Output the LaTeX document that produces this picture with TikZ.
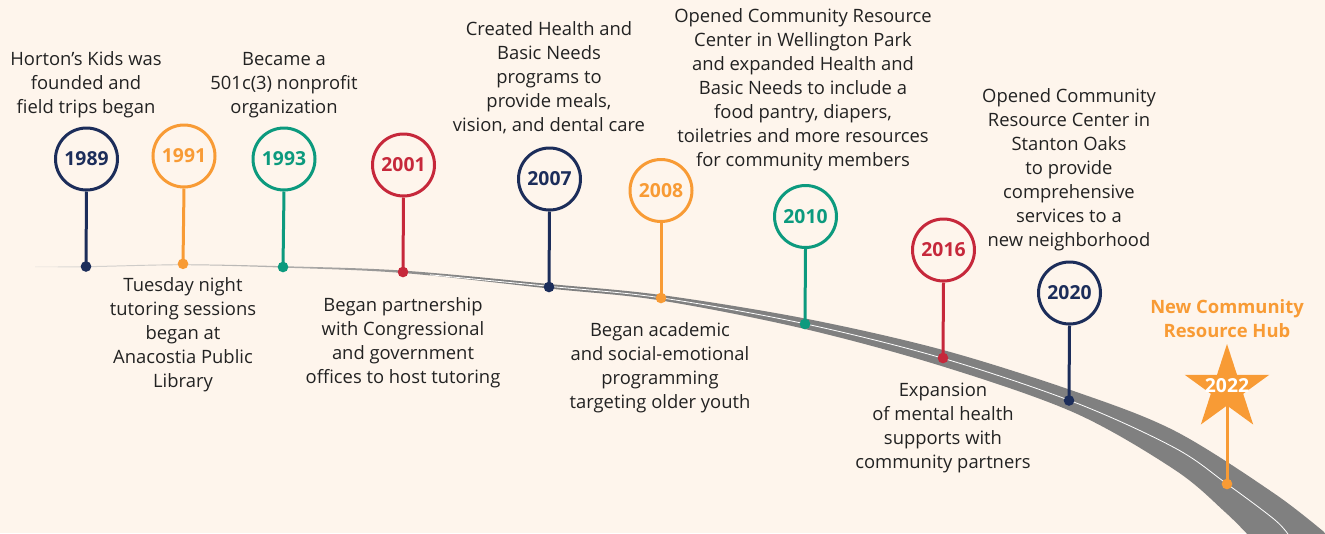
\documentclass[tikz,border=0pt]{standalone}
\usepackage{fontspec}
\setmainfont{Open Sans}
\definecolor{bg}{HTML}{FEF5EC}
\definecolor{navy}{HTML}{1C2D5A}
\definecolor{orng}{HTML}{F89B35}
\definecolor{teal}{HTML}{0C9A7E}
\definecolor{crim}{HTML}{C6283B}
\definecolor{txt}{HTML}{222222}
\definecolor{roadlight}{HTML}{E2DFDB}
\definecolor{roadmid}{HTML}{B4B2B0}
\definecolor{roadgray}{HTML}{808080}
\pgfdeclarehorizontalshading{roadshade}{100bp}{color(0bp)=(roadlight); color(25bp)=(roadlight); color(34bp)=(roadmid); color(42bp)=(roadgray); color(100bp)=(roadgray)}
\begin{document}
\begin{tikzpicture}[x=0.75pt,y=-0.75pt,
  yearc/.style={circle, draw=#1, line width=2.25pt, fill=bg, minimum size=46.5pt, inner sep=0pt,
    text=#1, font=\fontsize{14.5}{17}\selectfont\bfseries},
  roaddot/.style={circle, fill=#1, minimum size=8pt, inner sep=0pt},
  pinline/.style={draw=#1, line width=2.25pt},
  body/.style={font=\fontsize{13.8}{18}\selectfont, text=txt, align=center, inner sep=0pt}]
\useasboundingbox (0,0) rectangle (1325,533);
\fill[bg] (0,0) rectangle (1325,533);
% road
\begin{scope}
\clip (0,0) rectangle (1325,533);
\shade[shading=roadshade] plot[smooth, tension=0.55] coordinates {(35,266.6) (86,266.2) (183,264.3) (283,266.2) (403,270.6) (549,284) (661,295) (805,318.5) (943,350) (1075,391.5) (1175,431) (1275,494) (1330,537)}
  -- plot[smooth, tension=0.55] coordinates {(1250,537) (1225,512) (1175,470) (1075,413) (943,366.5) (805,329) (661,300.5) (549,288.5) (403,273) (283,267.6) (183,265.2) (86,267.2) (35,267)} -- cycle;
\draw[white, line width=0.6pt] plot[smooth, tension=0.55] coordinates {(430,274.8) (549,286.3) (661,297.8) (805,323.8) (943,358.3) (1075,402.5) (1175,448) (1227,484) (1275,520) (1290,537)};
\end{scope}
% dots (positions on road)
\node[roaddot=navy] (d1989) at (86,266.5) {};
\node[roaddot=orng] (d1991) at (183,263.8) {};
\node[roaddot=teal] (d1993) at (283,267) {};
\node[roaddot=crim] (d2001) at (403,272) {};
\node[roaddot=navy] (d2007) at (549,287) {};
\node[roaddot=orng] (d2008) at (661,298) {};
\node[roaddot=teal] (d2010) at (805,324) {};
\node[roaddot=crim] (d2016) at (943,358) {};
\node[roaddot=navy] (d2020) at (1069,400.5) {};
\node[roaddot=orng] (d2022) at (1227,484) {};
% year circles
\node[yearc=navy] (y1989) at (86.5,159) {1989};
\node[yearc=orng] (y1991) at (184,156) {1991};
\node[yearc=teal] (y1993) at (284,159) {1993};
\node[yearc=crim] (y2001) at (403.5,165) {2001};
\node[yearc=navy] (y2007) at (549.5,179) {2007};
\node[yearc=orng] (y2008) at (661,190.5) {2008};
\node[yearc=teal] (y2010) at (805.5,216.5) {2010};
\node[yearc=crim] (y2016) at (943.5,250) {2016};
\node[yearc=navy] (y2020) at (1069.5,293) {2020};
\coordinate (s2022) at (1227,388.5);
% pins
\draw[pinline=navy] (y1989.south) -- (d1989.center);
\draw[pinline=orng] (y1991.south) -- (d1991.center);
\draw[pinline=teal] (y1993.south) -- (d1993.center);
\draw[pinline=crim] (y2001.south) -- (d2001.center);
\draw[pinline=navy] (y2007.south) -- (d2007.center);
\draw[pinline=orng] (y2008.south) -- (d2008.center);
\draw[pinline=teal] (y2010.south) -- (d2010.center);
\draw[pinline=crim] (y2016.south) -- (d2016.center);
\draw[pinline=navy] (y2020.south) -- (d2020.center);
\draw[pinline=orng] (s2022) -- (d2022.center);
% star
\fill[orng, shift={(1227,388.5)}] (-90:44.5) -- (-54:17) -- (-18:44.5) -- (18:17) -- (54:44.5) -- (90:17) -- (126:44.5) -- (162:17) -- (198:44.5) -- (234:17) -- cycle;
\node[text=white, font=\fontsize{14.5}{17}\selectfont\bfseries, inner sep=0pt] (y2022) at (1227,386) {2022};
% texts
\node[body] (t1989) at (86,85) {Horton’s Kids was\\founded and\\field trips began};
\node[body] (t1991) at (183,335) {Tuesday night\\tutoring sessions\\began at\\Anacostia Public\\Library};
\node[body] (t1993) at (284,85.5) {Became a\\501c(3) nonprofit\\organization};
\node[body] (t2001) at (403,343) {Began partnership\\with Congressional\\and government\\offices to host tutoring};
\node[body] (t2007) at (549,78) {Created Health and\\Basic Needs\\programs to\\provide meals,\\vision, and dental care};
\node[body] (t2008) at (660,368) {Began academic\\and social-emotional\\programming\\targeting older youth};
\node[body] (t2010) at (803,90) {Opened Community Resource\\Center in Wellington Park\\and expanded Health and\\Basic Needs to include a\\food pantry, diapers,\\toiletries and more resources\\for community members};
\node[body] (t2016) at (943,428) {Expansion\\of mental health\\supports with\\community partners};
\node[body] (t2020) at (1069,170) {Opened Community\\Resource Center in\\Stanton Oaks\\to provide\\comprehensive\\services to a\\new neighborhood};
\node[body, text=orng, font=\fontsize{13.8}{18}\selectfont\bfseries] (t2022) at (1227,319) {New Community\\Resource Hub};
\end{tikzpicture}
\end{document}
